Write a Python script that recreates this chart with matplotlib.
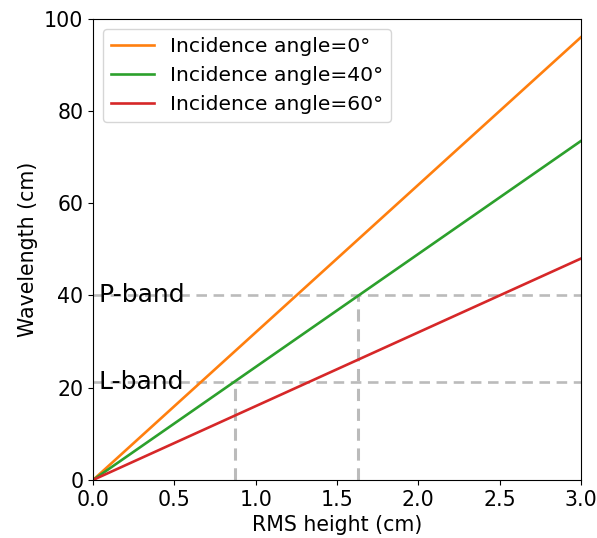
import matplotlib
matplotlib.use("Agg")
import matplotlib.pyplot as plt

# Data
rms_x = [0.0, 3.0]
wl_0 = [0.0, 96.0]
wl_40 = [0.0, 73.5]
wl_60 = [0.0, 48.0]
labels = ["Incidence angle=0°", "Incidence angle=40°", "Incidence angle=60°"]
band_names = ["L-band", "P-band"]
band_wl = [21.3, 40.0]
band_h = [0.873, 1.632]

fig = plt.figure(figsize=(5.97, 5.38), dpi=100)
ax = fig.add_axes([0.156, 0.108, 0.817, 0.857])

ax.plot(rms_x, wl_0, color="#ff7f0e", lw=1.9, label=labels[0])
ax.plot(rms_x, wl_40, color="#2ca02c", lw=1.9, label=labels[1])
ax.plot(rms_x, wl_60, color="#d62728", lw=1.9, label=labels[2])

for name, wl, h in zip(band_names, band_wl, band_h):
    ax.plot([0, 3.0], [wl, wl], ls=(0, (4, 2.5)), color="#bbbbbb", lw=1.9, zorder=1)
    ax.plot([h, h], [0, wl], ls=(0, (4, 2.5)), color="#bbbbbb", lw=2.2, zorder=1)
    ax.text(0.03, wl, name, fontsize=18, va="center", ha="left")

ax.set_xlim(0, 3.0)
ax.set_ylim(0, 100)
ax.set_xlabel("RMS height (cm)", fontsize=14.8)
ax.set_ylabel("Wavelength (cm)", fontsize=14.8)
ax.tick_params(labelsize=14.8)
ax.legend(fontsize=14.6, loc="upper left", handlelength=2.1)

fig.savefig("out.png", dpi=100)
